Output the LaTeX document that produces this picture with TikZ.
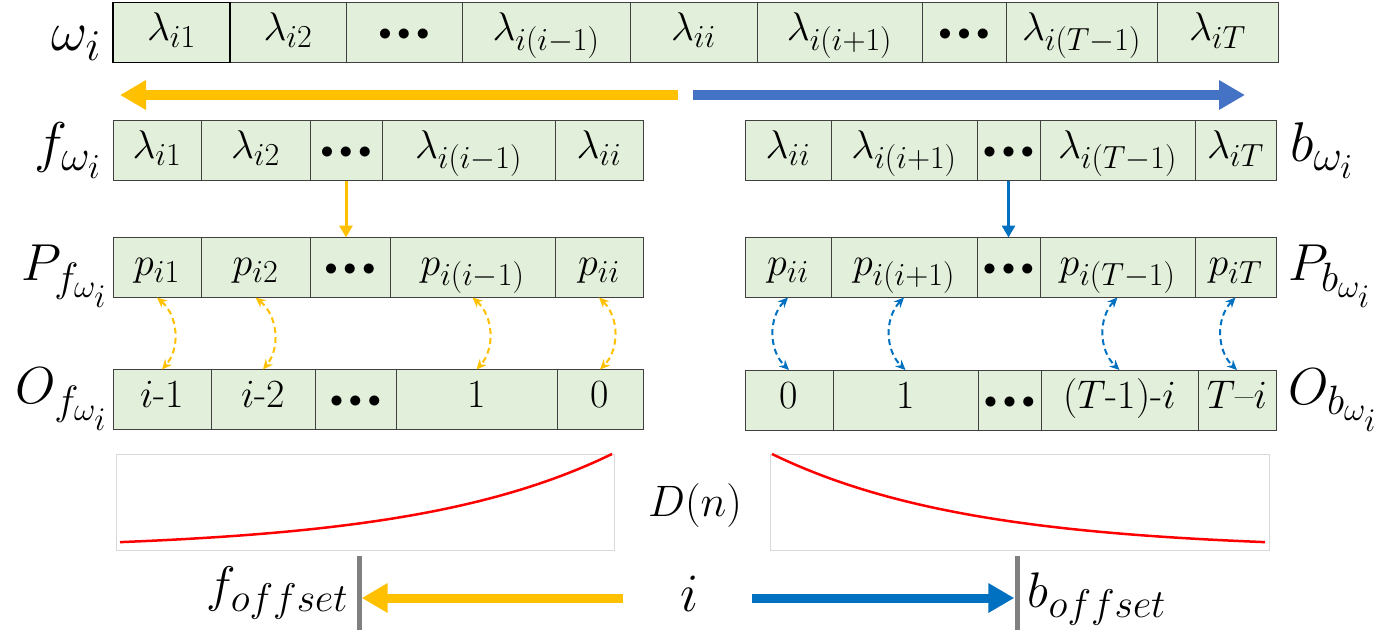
\RequirePackage{fix-cm}
\documentclass[tikz,border=0pt]{standalone}
\usetikzlibrary{arrows.meta, positioning, calc}

\definecolor{cellgreen}{HTML}{E2EFDA}
\definecolor{cellline}{HTML}{404040}
\definecolor{gold}{HTML}{FFC000}
\definecolor{topblue}{HTML}{4472C4}
\definecolor{deepblue}{HTML}{0070C0}
\definecolor{bargray}{HTML}{808080}
\definecolor{framegray}{HTML}{D9D9D9}

% bigger sub- and superscripts, as in the slide
\DeclareMathSizes{40}{40}{32}{26}
\DeclareMathSizes{44}{44}{35}{28}
\DeclareMathSizes{50}{50}{40}{32}
\DeclareMathSizes{52}{52}{41}{33}
\DeclareMathSizes{54}{54}{42}{34}
\DeclareMathSizes{56}{56}{44}{35}

\newcommand{\tdots}{{\fontsize{26}{26}\selectfont$\bullet\bullet\bullet$}}

\begin{document}
\begin{tikzpicture}[x=1pt, y=-1pt,
    cell/.style={draw=cellline, fill=cellgreen, line width=1pt, inner sep=0pt, outer sep=0pt,
        minimum height=60pt, text height=28pt, text depth=12pt, font=\fontsize{40}{44}\selectfont},
    lab/.style={inner sep=0pt, font=\fontsize{52}{56}\selectfont},
    biglab/.style={inner sep=0pt, font=\fontsize{56}{60}\selectfont},
    fat/.style={line width=10pt, -{Triangle[length=26pt, width=28pt]}},
    drop/.style={line width=3pt, -{Triangle[length=12pt, width=13pt]}},
    link/.style={line width=2pt, dash pattern=on 6pt off 4pt,
        {Stealth[length=10pt, width=9pt]}-{Stealth[length=10pt, width=9pt]}},
    offbar/.style={fill=bargray, minimum width=5pt, minimum height=74pt, inner sep=0pt},
    plotframe/.style={draw=framegray, line width=0.8pt},
    decay/.style={red, line width=2.5pt}]
    \useasboundingbox (0,0) rectangle (1395,630);

    % omega_i
    \foreach \xa/\xb/\txt [count=\k] in {113/230/{$\lambda_{i1}$}, 230/346/{$\lambda_{i2}$}, 346/462/\tdots,
        462/630/{$\lambda_{i(i-1)}$}, 630/757/{$\lambda_{ii}$}, 757/922/{$\lambda_{i(i+1)}$}, 922/1006/\tdots,
        1006/1157/{$\lambda_{i(T-1)}$}, 1157/1278/{$\lambda_{iT}$}}
        \node[cell, minimum width={(\xb-\xa)*1pt}] (w\k) at ({(\xa+\xb)/2}, 32.5) {\txt};
    \draw[line width=1.3pt] (w1.north west) rectangle (w1.south east);
    \node[biglab, left=12pt of w1, yshift=-11pt] (wlab) {$\omega_i$};

    \coordinate (ymid) at (678,95);
    \coordinate (yend) at (120,95);
    \coordinate (bmid) at (693,95);
    \coordinate (bfar) at (1245,95);
    \draw[fat, gold] (ymid) -- (yend);
    \draw[fat, topblue] (bmid) -- (bfar);

    % forward part
    \foreach \xa/\xb/\txt [count=\k] in {113/201/{$\lambda_{i1}$}, 201/310/{$\lambda_{i2}$}, 310/382/\tdots,
        382/555/{$\lambda_{i(i-1)}$}, 555/643/{$\lambda_{ii}$}}
        \node[cell, minimum width={(\xb-\xa)*1pt}] (f\k) at ({(\xa+\xb)/2}, 150.5) {\txt};
    \foreach \xa/\xb/\txt [count=\k] in {113/201/{$p_{i1}$}, 201/310/{$p_{i2}$}, 310/390/\tdots,
        390/555/{$p_{i(i-1)}$}, 555/643/{$p_{ii}$}}
        \node[cell, minimum width={(\xb-\xa)*1pt}] (pf\k) at ({(\xa+\xb)/2}, 267.5) {\txt};
    \foreach \xa/\xb/\txt [count=\k] in {113/211/{$i$-1}, 211/315/{$i$-2}, 315/396/\tdots,
        396/557/{1}, 557/643/{0}}
        \node[cell, minimum width={(\xb-\xa)*1pt}] (of\k) at ({(\xa+\xb)/2}, 399.5) {\txt};
    \node[biglab, left=12pt of f1] (flab) {$f_{\omega_i}$};
    \node[lab, left=6pt of pf1, yshift=-9pt] (pflab) {$P_{f_{\omega_i}}$};
    \node[lab, left=6pt of of1] (oflab) {$O_{f_{\omega_i}}$};

    \draw[drop, gold] (f3.south) -- (f3.south |- pf3.north);
    \foreach \k in {1,2,4,5}
        \draw[link, gold] (pf\k.south) to[bend left=45] (of\k.north);

    % backward part
    \foreach \xa/\xb/\txt [count=\k] in {745/831/{$\lambda_{ii}$}, 831/977/{$\lambda_{i(i+1)}$}, 977/1040/\tdots,
        1040/1195/{$\lambda_{i(T-1)}$}, 1195/1276/{$\lambda_{iT}$}}
        \node[cell, minimum width={(\xb-\xa)*1pt}] (b\k) at ({(\xa+\xb)/2}, 150.5) {\txt};
    \foreach \xa/\xb/\txt [count=\k] in {745/831/{$p_{ii}$}, 831/977/{$p_{i(i+1)}$}, 977/1040/\tdots,
        1040/1195/{$p_{i(T-1)}$}, 1195/1276/{$p_{iT}$}}
        \node[cell, minimum width={(\xb-\xa)*1pt}] (pb\k) at ({(\xa+\xb)/2}, 267.5) {\txt};
    \foreach \xa/\xb/\txt [count=\k] in {745/833/{0}, 833/978/{1}, 978/1041/\tdots,
        1041/1198/{$(T$-1$)$-$i$}, 1198/1276/{$T$--$i$}}
        \node[cell, minimum width={(\xb-\xa)*1pt}] (ob\k) at ({(\xa+\xb)/2}, 400) {\txt};
    \node[biglab, right=14pt of b5] (blab) {$b_{\omega_i}$};
    \node[lab, right=12pt of pb5, yshift=-9pt] (pblab) {$P_{b_{\omega_i}}$};
    \node[lab, right=12pt of ob5] (oblab) {$O_{b_{\omega_i}}$};

    \draw[drop, deepblue] (b3.south) -- (b3.south |- pb3.north);
    \foreach \k in {1,2,4,5}
        \draw[link, deepblue] (pb\k.south) to[bend right=45] (ob\k.north);

    % decay curves
    \draw[plotframe] (116,454) rectangle (614,550);
    \draw[decay] plot[domain=120:612, samples=60] (\x, {550-96*exp(-2.5*(612-\x)/492)});
    \draw[plotframe] (770,454) rectangle (1269,550);
    \draw[decay] plot[domain=772:1265, samples=60] (\x, {550-96*exp(-2.5*(\x-772)/493)});
    \node[lab, font=\fontsize{44}{48}\selectfont] (dlab) at (695,505) {$D(n)$};

    % offsets
    \node[offbar] (fbar) at (359,593) {};
    \node[offbar] (bbar) at (1017,593) {};
    \node[lab, font=\fontsize{54}{58}\selectfont] (ilab) at (690,594) {$i$};
    \coordinate (ytail) at (623,598);
    \coordinate (btail) at (752,598);
    \draw[fat, gold, line width=9pt] (ytail) -- (fbar.east |- ytail);
    \draw[fat, deepblue, line width=9pt] (btail) -- (bbar.west |- btail);
    \node[lab, font=\fontsize{50}{54}\selectfont, left=8pt of fbar] (foff) {$f_{offset}$};
    \node[lab, font=\fontsize{50}{54}\selectfont, right=8pt of bbar, yshift=-6pt] (boff) {$b_{offset}$};
\end{tikzpicture}
\end{document}
